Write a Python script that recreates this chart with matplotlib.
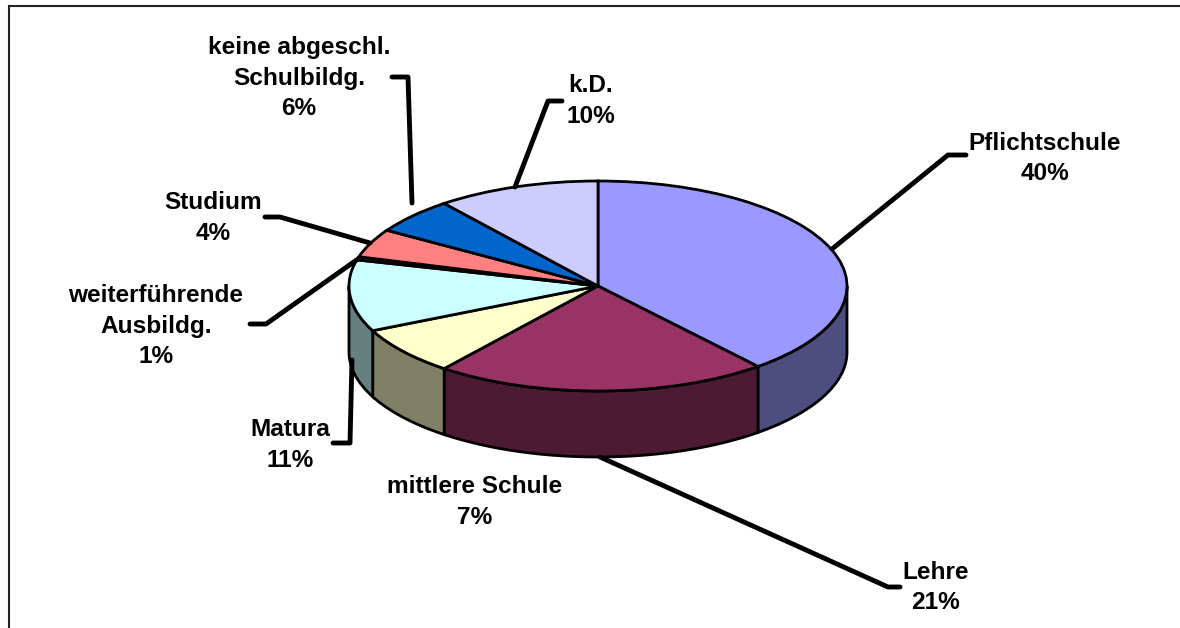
import numpy as np
from matplotlib import pyplot as plt
from matplotlib.colors import to_rgb

names = ['Pflichtschule', 'Lehre', 'mittlere Schule', 'Matura',
         'weiterführende\nAusbildg.', 'Studium', 'keine abgeschl.\nSchulbildg.', 'k.D.']
# printed labels, and the slice sizes as they look in the tilted picture
percents = [40, 21, 7, 11, 1, 4, 6, 10]
shares = [38.9, 21.7, 7.4, 11, 0.5, 4.4, 5.5, 10.6]
colors = ['#9999FF', '#993366', '#FFFFCC', '#CCFFFF', '#660066', '#FF8080', '#0066CC', '#CCCCFF']

W, H = 1180, 628

# label centres and leader lines, in pixels of the picture
label_pos = [(1045, 158.5), (936, 587.5), (475, 502), (290, 445), (156, 326), (213, 218), (299, 78), (591, 101)]
leaders = [
    [(832, 249), (948, 155), (966, 155)],
    [(600, 457), (888, 587), (900, 587)],
    None,
    [(352, 360), (350, 443), (333, 443)],
    [(358, 259), (266, 324), (250, 324)],
    [(370, 243), (280, 217), (265, 217)],
    [(412, 203), (408, 77), (392, 77)],
    [(515, 187), (548, 101), (562, 101)],
]


def _main():
    plt.rcParams['font.family'] = ['Liberation Sans', 'DejaVu Sans']

    fig = plt.figure(figsize=(W / 100, H / 100), dpi=100, facecolor='white')

    # pie axes cover just the top ellipse, the squashed aspect gives the tilt
    left, right, top, bottom = 349, 847, 181, 391
    ax = fig.add_axes([left / W, 1 - bottom / H, (right - left) / W, (bottom - top) / H])
    ax.pie(shares, colors=colors, startangle=90, counterclock=False, radius=1,
           wedgeprops=dict(edgecolor='black', linewidth=2))
    ax.set_aspect('auto')
    ax.set_xlim(-1, 1)
    ax.set_ylim(-1, 1)

    # side wall, only the front half of the circle is visible
    depth = 66 / 105
    edges = np.cumsum([0] + shares) / np.sum(shares) * 360
    for i in range(len(shares)):
        a0 = max(edges[i], 90)
        a1 = min(edges[i + 1], 270)
        if a1 <= a0:
            continue
        t = np.radians(np.linspace(a0, a1, 60))
        x = np.sin(t)
        y = np.cos(t)
        shade = tuple(c * 0.5 for c in to_rgb(colors[i]))
        ax.fill(np.r_[x, x[::-1]], np.r_[y, y[::-1] - depth], facecolor=shade,
                edgecolor='black', linewidth=2, zorder=0.5, clip_on=False)
    for p in ax.patches:
        p.set_clip_on(False)

    # overlay in picture pixels for frame, leaders and labels
    over = fig.add_axes([0, 0, 1, 1])
    over.set_xlim(0, W)
    over.set_ylim(H, 0)
    over.axis('off')
    over.patch.set_alpha(0)

    over.plot([8.5, 8.5, W], [H, 5.5, 5.5], color='#222222', lw=1.5, solid_joinstyle='miter')

    for i in range(len(names)):
        if leaders[i] is not None:
            xs, ys = zip(*leaders[i])
            over.plot(xs, ys, color='black', lw=3.5, solid_capstyle='round', solid_joinstyle='round')
        over.text(label_pos[i][0], label_pos[i][1], '%s\n%d%%' % (names[i], percents[i]),
                  ha='center', va='center', ma='center', fontsize=17.6, fontweight='bold',
                  linespacing=1.43, color='black')

    fig.savefig('out.png', dpi=100, facecolor='white')


if __name__ == '__main__':
    _main()
